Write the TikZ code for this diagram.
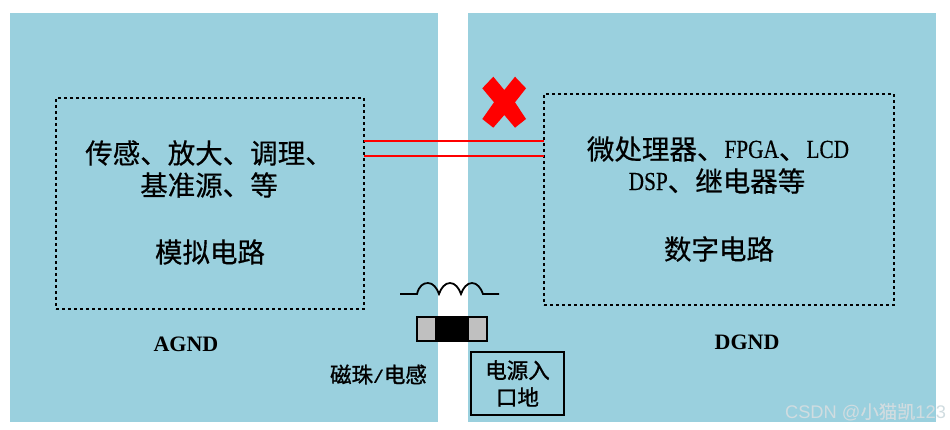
\documentclass[tikz,border=0pt]{standalone}
\usepackage{fontspec}
\setmainfont{Liberation Serif}
\newfontfamily\cjk{Noto Sans CJK SC}[FakeBold=0.5]
\newfontfamily\cjkb{Noto Sans CJK SC}[FakeBold=1.2]
\newfontfamily\latn{Liberation Serif}[FakeStretch=0.82,FakeBold=0.3]
\newfontfamily\latb{Liberation Mono}[FakeBold=1]
\newfontfamily\wm{Liberation Sans}
\definecolor{panelblue}{HTML}{9AD0DE}
\definecolor{chipgray}{HTML}{C0C0C0}
\definecolor{linered}{HTML}{FF0000}
\definecolor{wmgray}{HTML}{D0DCE0}
\newcommand{\lat}[1]{\raisebox{1.5pt}{\latn\fontsize{26}{34}\selectfont #1}}
\newcommand{\slat}[1]{{\latb\fontsize{18}{27}\selectfont #1}}
\tikzset{
  every node/.style={outer sep=0pt},
  panel/.style={fill=panelblue,draw=none,minimum height=409pt,inner sep=0pt,anchor=north west},
  circuit/.style={draw=black,line width=2.3pt,dash pattern=on 3pt off 3pt,inner sep=0pt,anchor=north west},
  bigtext/.style={font=\cjk\fontsize{27.5}{34}\selectfont,align=center,inner sep=0pt,text=black},
  gndtext/.style={font=\bfseries\fontsize{22}{24}\selectfont,inner sep=0pt},
  smalltext/.style={font=\cjkb\fontsize{21.5}{27}\selectfont,align=center,inner sep=0pt},
  wire/.style={draw=linered,line width=2.5pt},
}
\begin{document}
\begin{tikzpicture}[x=1pt,y=-1pt]
\useasboundingbox (0,0) rectangle (950,430);
\node[panel,minimum width=428pt] (lp) at (10,13) {};
\node[panel,minimum width=468pt] (rp) at (468,13) {};
\node[circuit,minimum width=308pt,minimum height=211pt] (lb) at (56,98) {};
\node[circuit,minimum width=350pt,minimum height=211pt] (rb) at (544,94) {};
\node[bigtext] (lt1) at (209,153) {传感、放大、调理、};
\node[bigtext] (lt2) at (209,185) {基准源、等};
\node[bigtext] (lt3) at (210,252) {模拟电路};
\node[bigtext] (rt1) at (718,149) {微处理器、\lat{FPGA}、\lat{LCD}};
\node[bigtext] (rt2) at (717,181) {\lat{DSP}、继电器等};
\node[bigtext] (rt3) at (719,249) {数字电路};
\node[gndtext] (ag) at (186,344) {AGND};
\node[gndtext] (dg) at (747,342) {DGND};
\draw[wire] (lb.east |- 0,141) -- (rb.west |- 0,141);
\draw[wire] (lb.east |- 0,156) -- (rb.west |- 0,156);
\fill[linered] (493.3,76.7) -- (504.3,90) -- (515,76.7) -- (526,88.3) -- (515,102.3) -- (526,119) -- (515,127.7) -- (504.3,115) -- (493.3,127.7) -- (482.3,119) -- (494,102.3) -- (482.3,88.3) -- cycle;
\coordinate (indl) at (400,294);
\coordinate (indr) at (499,294);
\draw[black,line width=1.8pt] (indl) -- (417,294)
  .. controls (419,286) and (423,283) .. (428,283)
  .. controls (433,283) and (437,288) .. (439,294)
  .. controls (441,288) and (445,283) .. (450,283)
  .. controls (455,283) and (459,288) .. (461,294)
  .. controls (463,288) and (467,283) .. (472,283)
  .. controls (477,283) and (481,288) .. (483,294) -- (indr);
\node[draw=black,fill=chipgray,line width=2pt,minimum width=70pt,minimum height=24pt,inner sep=0pt,anchor=north west] (chip) at (417,317) {};
\node[fill=black,draw=none,minimum width=34pt,minimum height=24pt,inner sep=0pt] (core) at (chip.center) {};
\node[draw=black,line width=2pt,minimum width=93pt,minimum height=63pt,inner sep=0pt,anchor=north west,smalltext] (src) at (471,352) {电源入\\口地};
\node[smalltext] (bead) at (378.5,374.5) {磁珠\slat{/}电感};
\node[font=\cjk\fontsize{18.3}{20}\selectfont,text=wmgray,inner sep=0pt,anchor=east] (wm) at (946,412) {{\wm CSDN @}小猫凯{\wm 123}};
\end{tikzpicture}
\end{document}
